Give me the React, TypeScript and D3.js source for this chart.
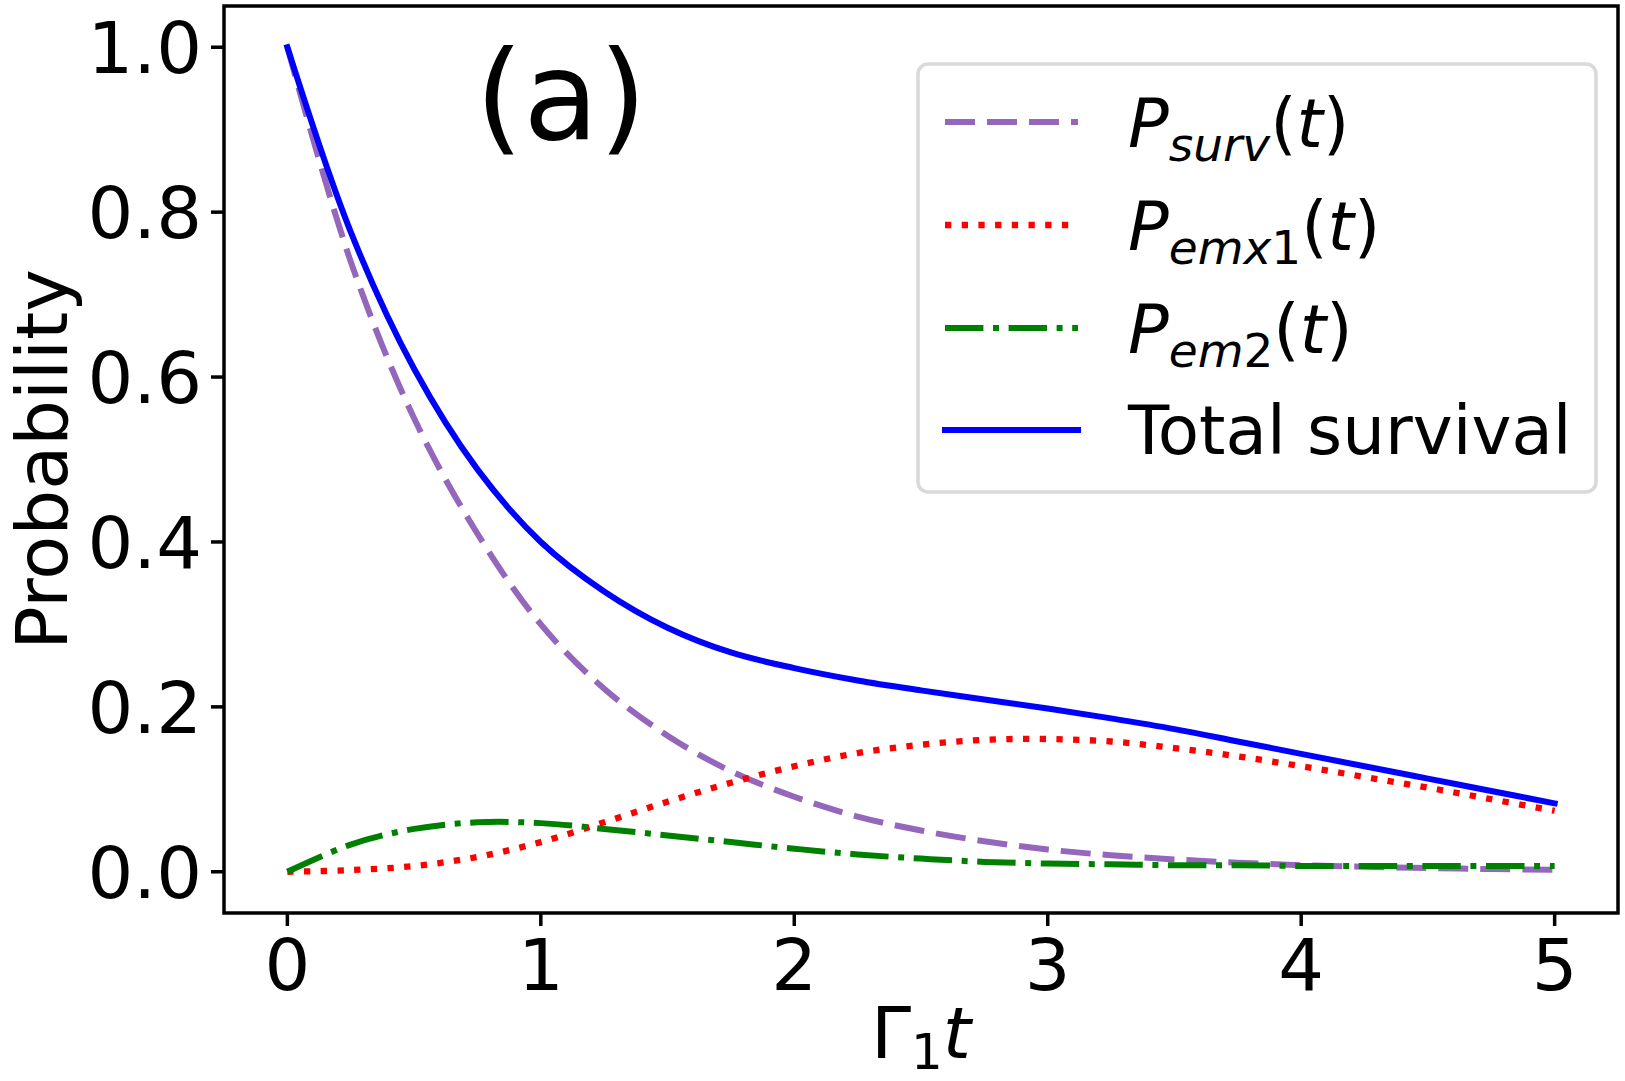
import React from 'react';
import * as d3 from 'd3';

const tValues = [0, 0.25, 0.5, 0.75, 1, 1.25, 1.5, 1.75, 2, 2.25, 2.5, 2.75, 3, 3.25, 3.5, 3.75, 4, 4.25, 4.5, 4.75, 5];
const pSurv = [1.0, 0.74, 0.55, 0.41, 0.30, 0.222, 0.165, 0.122, 0.091, 0.067, 0.05, 0.037, 0.027, 0.02, 0.015, 0.011, 0.008, 0.006, 0.0045, 0.0033, 0.0025];
const pEmx1 = [0, 0.002, 0.007, 0.018, 0.036, 0.06, 0.085, 0.108, 0.128, 0.144, 0.154, 0.16, 0.161, 0.158, 0.15, 0.14, 0.128, 0.115, 0.102, 0.088, 0.074];
const pEm2 = [0, 0.033, 0.052, 0.06, 0.059, 0.052, 0.044, 0.036, 0.028, 0.021, 0.016, 0.012, 0.01, 0.009, 0.008, 0.008, 0.007, 0.007, 0.007, 0.007, 0.007];
const totalSurv = [1.0, 0.776, 0.61, 0.488, 0.40, 0.34, 0.296, 0.266, 0.247, 0.232, 0.22, 0.209, 0.198, 0.186, 0.173, 0.158, 0.143, 0.128, 0.113, 0.098, 0.083];
const xTicks = [0, 1, 2, 3, 4, 5];
const yTicks = [0, 0.2, 0.4, 0.6, 0.8, 1.0];

const FONT = '"DejaVu Sans", sans-serif';

export default function App() {
  const W = 1625, H = 1081;
  const left = 224, right = 1618, top = 6, bottom = 913;
  const x = d3.scaleLinear().domain([-0.25, 5.25]).range([left, right]);
  const y = d3.scaleLinear().domain([-0.05, 1.05]).range([bottom, top]);
  const line = (vals: number[]) =>
    d3.line<number>().x((_, i) => x(tValues[i])).y((d) => y(d)).curve(d3.curveCatmullRom.alpha(0.5))(vals) || '';

  const series = [
    { vals: pSurv, color: '#9467bd', width: 6, dash: '30 12', cap: 'butt' },
    { vals: pEmx1, color: '#ff0000', width: 6.3, dash: '6.3 10.4', cap: 'butt' },
    { vals: pEm2, color: '#008000', width: 6, dash: '38.4 9.6 6 9.6', cap: 'butt' },
    { vals: totalSurv, color: '#0000ff', width: 6, dash: undefined, cap: 'square' },
  ];

  const legendRows = [122, 225, 328, 430];
  const tickFs = 72;
  const legFs = 67.5;
  const subFs = 47;
  const subDy = 14;

  return (
    <svg width={W} height={H} style={{ position: 'absolute', left: 0, top: 0, background: '#fff' }} fontFamily={FONT}>
      <rect x={0} y={0} width={W} height={H} fill="#fff" />
      {series.map((s, i) => (
        <path key={i} d={line(s.vals)} fill="none" stroke={s.color} strokeWidth={s.width}
          strokeDasharray={s.dash} strokeLinecap={s.cap as any} strokeLinejoin="round" />
      ))}
      {/* spines */}
      <rect x={left} y={top} width={right - left} height={bottom - top} fill="none" stroke="#000" strokeWidth={3.5} />
      {/* x ticks */}
      {xTicks.map((t) => (
        <g key={'x' + t}>
          <line x1={x(t)} x2={x(t)} y1={bottom} y2={bottom + 13} stroke="#000" strokeWidth={3.5} />
          <text x={x(t)} y={990} fontSize={tickFs} textAnchor="middle" fill="#000">{t}</text>
        </g>
      ))}
      {/* y ticks */}
      {yTicks.map((t) => (
        <g key={'y' + t}>
          <line x1={left - 13} x2={left} y1={y(t)} y2={y(t)} stroke="#000" strokeWidth={3.5} />
          <text x={202} y={y(t)} dy="0.36em" fontSize={tickFs} textAnchor="end" fill="#000">{t.toFixed(1)}</text>
        </g>
      ))}
      {/* axis labels */}
      <text x={(left + right) / 2} y={1058} fontSize={tickFs} textAnchor="middle" fill="#000">
        <tspan>Γ</tspan>
        <tspan fontSize={50} dy={11}>1</tspan>
        <tspan fontStyle="italic" dy={-11}>t</tspan>
      </text>
      <text transform={`translate(67,${(top + bottom) / 2}) rotate(-90)`} fontSize={tickFs} textAnchor="middle" fill="#000">Probability</text>
      {/* panel label */}
      <text x={561} y={139} fontSize={123} textAnchor="middle" fill="#000">(a)</text>
      {/* legend */}
      <rect x={918} y={64} width={678} height={428} rx={10} ry={10} fill="#fff" fillOpacity={0.8} stroke="#d9d9d9" strokeWidth={3.5} />
      {series.map((s, i) => (
        <line key={'lh' + i} x1={945} x2={1078} y1={legendRows[i]} y2={legendRows[i]} stroke={s.color}
          strokeWidth={s.width} strokeDasharray={s.dash} strokeLinecap={s.cap as any} />
      ))}
      <text x={1128} y={legendRows[0] + 25} fontSize={legFs} fill="#000">
        <tspan fontStyle="italic">P</tspan>
        <tspan fontStyle="italic" fontSize={subFs} dy={subDy}>surv</tspan>
        <tspan dy={-subDy}>(</tspan>
        <tspan fontStyle="italic">t</tspan>
        <tspan>)</tspan>
      </text>
      <text x={1128} y={legendRows[1] + 25} fontSize={legFs} fill="#000">
        <tspan fontStyle="italic">P</tspan>
        <tspan fontStyle="italic" fontSize={subFs} dy={subDy}>emx</tspan>
        <tspan fontSize={subFs}>1</tspan>
        <tspan dy={-subDy}>(</tspan>
        <tspan fontStyle="italic">t</tspan>
        <tspan>)</tspan>
      </text>
      <text x={1128} y={legendRows[2] + 25} fontSize={legFs} fill="#000">
        <tspan fontStyle="italic">P</tspan>
        <tspan fontStyle="italic" fontSize={subFs} dy={subDy}>em</tspan>
        <tspan fontSize={subFs}>2</tspan>
        <tspan dy={-subDy}>(</tspan>
        <tspan fontStyle="italic">t</tspan>
        <tspan>)</tspan>
      </text>
      <text x={1128} y={legendRows[3] + 24} fontSize={legFs} fill="#000">Total survival</text>
    </svg>
  );
}
